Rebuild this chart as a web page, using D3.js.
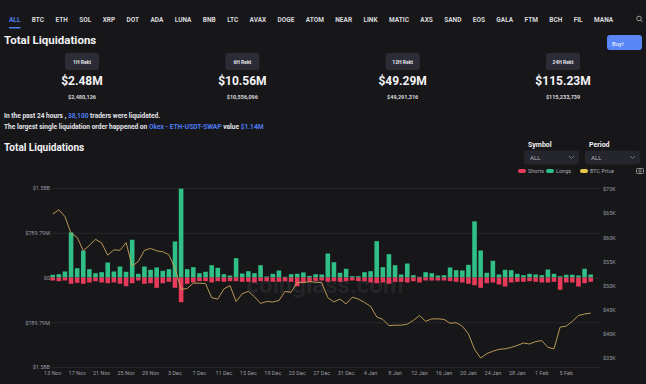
<!DOCTYPE html>
<html>
<head>
<meta charset="utf-8">
<script src="https://cdn.jsdelivr.net/npm/d3@7"></script>
<style>
  html, body { margin: 0; padding: 0; background: #17171a; }
  svg { display: block; font-family: Roboto, "Noto Sans", sans-serif; }
</style>
</head>
<body>
<svg id="page" width="646" height="384"></svg>
<script>
// ---- data ----
var navItems = ["ALL", "BTC", "ETH", "SOL", "XRP", "DOT", "ADA", "LUNA", "BNB", "LTC", "AVAX", "DOGE",
    "ATOM", "NEAR", "LINK", "MATIC", "AXS", "SAND", "EOS", "GALA", "FTM", "BCH", "FIL", "MANA"];
var rektLabels = ["1H Rekt", "6H Rekt", "12H Rekt", "24H Rekt"];
var rektValues = ["$2.48M", "$10.56M", "$49.29M", "$115.23M"];
var rektExact = ["$2,480,126", "$10,556,096", "$49,291,316", "$115,233,739"];

// daily liquidations in $M, 13 Nov -> 9 Feb
var longs = [48, 58, 106, 795, 164, 472, 147, 76, 94, 265, 106, 194, 101, 666, 65, 194, 136, 177, 118, 147,
    636, 1567, 147, 182, 76, 101, 217, 171, 58, 35, 341, 71, 111, 76, 217, 18, 65, 124, 12, 58,
    65, 90, 27, 58, 53, 424, 270, 83, 154, 23, 23, 94, 111, 641, 182, 412, 217, 53, 247, 41,
    12, 94, 76, 35, 41, 177, 129, 124, 224, 990, 477, 83, 295, 53, 136, 129, 65, 41, 65, 53,
    41, 141, 65, 23, 48, 48, 35, 154, 53];
var shorts = [53, 65, 53, 111, 94, 111, 88, 65, 88, 101, 88, 111, 154, 101, 53, 111, 101, 182, 101, 76,
    182, 436, 111, 88, 65, 65, 88, 65, 76, 65, 65, 76, 76, 88, 65, 65, 76, 76, 65, 76,
    154, 88, 76, 60, 53, 76, 65, 76, 65, 53, 65, 65, 88, 101, 88, 111, 76, 76, 88, 65,
    88, 53, 53, 53, 53, 65, 76, 88, 111, 136, 182, 101, 88, 124, 159, 88, 76, 76, 65, 76,
    88, 88, 76, 217, 88, 88, 159, 101, 76];
// BTC price in $K
var btcPrice = [64.8, 65.7, 64.3, 60.8, 60.0, 57.2, 58.3, 59.6, 58.8, 56.3, 57.4, 57.3, 58.9, 54.0, 55.0, 57.3,
    57.7, 57.2, 57.0, 56.4, 53.6, 49.2, 49.4, 50.5, 50.5, 50.4, 47.5, 47.2, 49.3, 50.0, 46.7, 48.3,
    48.8, 47.7, 46.3, 46.7, 46.6, 46.9, 48.8, 48.6, 50.7, 50.6, 50.8, 50.7, 50.6, 47.5, 46.6, 47.2,
    46.2, 47.6, 47.2, 46.5, 45.7, 43.5, 43.0, 41.7, 41.8, 41.8, 42.0, 42.8, 43.8, 42.6, 43.1, 43.1,
    43.0, 42.2, 42.3, 41.6, 40.0, 36.8, 35.0, 35.9, 36.4, 36.8, 36.9, 37.2, 37.6, 38.1, 37.9, 38.4,
    38.6, 37.2, 36.9, 41.4, 41.6, 42.6, 43.8, 44.1, 44.3];
var days = d3.timeDay.range(new Date(2021, 10, 13), new Date(2022, 1, 10));

var leftTicks = [1579.58, 789.79, 0, -789.79, -1579.58];
var leftTickLabels = ["$1.58B", "$789.79M", "$0", "$789.79M", "$1.58B"];
var rightTicks = [70, 65, 60, 55, 50, 45, 40, 35];
var rightTickLabels = ["$70K", "$65K", "$60K", "$55K", "$50K", "$45K", "$40K", "$35K"];
var xTickLabels = ["13 Nov", "17 Nov", "21 Nov", "25 Nov", "29 Nov", "3 Dec", "7 Dec", "11 Dec", "15 Dec",
    "19 Dec", "23 Dec", "27 Dec", "31 Dec", "4 Jan", "8 Jan", "12 Jan", "16 Jan", "20 Jan", "24 Jan",
    "28 Jan", "1 Feb", "5 Feb"];

var blue = "#4d7cf3", green = "#2fbf87", red = "#e83b5c", gold = "#c9a55a";

var svg = d3.select("#page");

// ---- top nav ----
var nav = svg.append("g").style("font-size", "6.5px").style("font-weight", "bold");
var nx = 9;
navItems.forEach(function (d, i) {
    var t = nav.append("text")
        .attr("x", nx).attr("y", 21.5)
        .attr("fill", i == 0 ? blue : "#d8d8dc")
        .text(d);
    var w = t.node().getComputedTextLength();
    if (i == 0) {
        nav.append("rect").attr("x", nx).attr("y", 27).attr("width", w).attr("height", 1.5)
            .attr("fill", blue);
    }
    nx += w + 11.4;
});
// search icon
nav.append("circle").attr("cx", 639).attr("cy", 18.5).attr("r", 2.3)
    .attr("fill", "none").attr("stroke", "#aaa").attr("stroke-width", 0.9);
nav.append("line").attr("x1", 640.7).attr("y1", 20.2).attr("x2", 642.5).attr("y2", 22)
    .attr("stroke", "#aaa").attr("stroke-width", 0.9);

// ---- header ----
svg.append("text").attr("x", 4).attr("y", 44)
    .attr("fill", "#f2f2f4").style("font-size", "11.5px").style("font-weight", "bold")
    .text("Total Liquidations");

var buy = svg.append("g");
buy.append("rect").attr("x", 607).attr("y", 35).attr("width", 35).attr("height", 15).attr("rx", 3)
    .attr("fill", "#5b86f7");
buy.append("text").attr("x", 612).attr("y", 45.5).attr("fill", "#fff")
    .style("font-size", "6px").text("Buy!");

var rektX = d3.scalePoint().domain(rektLabels).range([82, 563]);
var rekt = svg.append("g").selectAll("g").data(rektLabels).enter().append("g")
    .attr("transform", function (d) { return "translate(" + rektX(d) + ",0)"; })
    .attr("text-anchor", "middle");
rekt.append("rect").attr("x", -17).attr("y", 53).attr("width", 34).attr("height", 17).attr("rx", 2.5)
    .attr("fill", "#2b2c36");
rekt.append("text").attr("y", 63.5).attr("fill", "#e6e6ea")
    .style("font-size", "5px").style("font-weight", "bold").text(function (d) { return d; });
rekt.append("text").attr("y", 85).attr("fill", "#f4f4f6")
    .style("font-size", "12px").style("font-weight", "bold")
    .text(function (d, i) { return rektValues[i]; });
rekt.append("text").attr("y", 98.5).attr("fill", "#d8d8dc")
    .style("font-size", "5.5px").style("font-weight", "bold")
    .text(function (d, i) { return rektExact[i]; });

var info = svg.append("g").style("font-size", "6.6px").style("font-weight", "bold").attr("fill", "#e4e4e8");
var l1 = info.append("text").attr("x", 4).attr("y", 117.5);
l1.append("tspan").text("In the past 24 hours , ");
l1.append("tspan").attr("fill", blue).text("38,100");
l1.append("tspan").text(" traders were liquidated.");
var l2 = info.append("text").attr("x", 4).attr("y", 128.5);
l2.append("tspan").text("The largest single liquidation order happened on ");
l2.append("tspan").attr("fill", blue).text("Okex - ETH-USDT-SWAP");
l2.append("tspan").text(" value ");
l2.append("tspan").attr("fill", blue).text("$1.14M");

svg.append("text").attr("x", 4).attr("y", 151)
    .attr("fill", "#f2f2f4").style("font-size", "10px").style("font-weight", "bold")
    .text("Total Liquidations");

// ---- selectors + legend ----
var selects = [["Symbol", 524], ["Period", 585]];
selects.forEach(function (s) {
    var g = svg.append("g").attr("transform", "translate(" + s[1] + ",0)");
    g.append("text").attr("x", 4).attr("y", 147).attr("fill", "#f0f0f2")
        .style("font-size", "7px").style("font-weight", "bold").text(s[0]);
    g.append("rect").attr("x", 0).attr("y", 150.5).attr("width", 55).attr("height", 14).attr("rx", 3)
        .attr("fill", "#24252d");
    g.append("text").attr("x", 6).attr("y", 160).attr("fill", "#b8b8c0")
        .style("font-size", "6px").text("ALL");
    g.append("path").attr("d", "M45,156 L47.5,158.5 L50,156").attr("fill", "none")
        .attr("stroke", "#888").attr("stroke-width", 0.8);
});

var legendItems = [["Shorts", red, 518], ["Longs", green, 546], ["BTC Price", "#e8c64a", 580]];
var legend = svg.append("g").style("font-size", "5.5px");
legendItems.forEach(function (d) {
    legend.append("rect").attr("x", d[2]).attr("y", 169).attr("width", 8).attr("height", 4).attr("rx", 2)
        .attr("fill", d[1]);
    legend.append("text").attr("x", d[2] + 10).attr("y", 173).attr("fill", "#a8a8b0").text(d[0]);
});
// camera icon
var cam = svg.append("g").attr("transform", "translate(640,171)");
cam.append("rect").attr("x", -3.5).attr("y", -2.5).attr("width", 7).attr("height", 5).attr("rx", 1)
    .attr("fill", "none").attr("stroke", "#aaa").attr("stroke-width", 0.8);
cam.append("circle").attr("r", 1.3).attr("fill", "none").attr("stroke", "#aaa").attr("stroke-width", 0.7);

// ---- chart ----
var x = d3.scaleBand().domain(days).range([48.9, 594.5]).padding(0.25);
var y = d3.scaleLinear().domain([-1579.58, 1579.58]).range([367, 188]);
var yPrice = d3.scaleLinear().domain([35, 70]).range([358, 189]);

// watermark
svg.append("text").attr("x", 325).attr("y", 293).attr("text-anchor", "middle")
    .attr("fill", "#ffffff").attr("fill-opacity", 0.07)
    .style("font-size", "24px").style("font-weight", "bold")
    .text("coinglass.com");

var yAxis = svg.append("g")
    .attr("transform", "translate(52,0)")
    .call(d3.axisLeft(y).tickValues(leftTicks).tickSize(-548).tickPadding(2)
        .tickFormat(function (d, i) { return leftTickLabels[i]; }));
yAxis.select(".domain").remove();
yAxis.selectAll("line").attr("stroke", "#2a2a31").attr("stroke-width", 0.8);
yAxis.selectAll("text").attr("fill", "#9a9aa2").style("font-size", "5.5px")
    .style("font-family", "Roboto, sans-serif");

var pAxis = svg.append("g")
    .attr("transform", "translate(600,0)")
    .call(d3.axisRight(yPrice).tickValues(rightTicks).tickSize(0).tickPadding(3)
        .tickFormat(function (d, i) { return rightTickLabels[i]; }));
pAxis.select(".domain").remove();
pAxis.selectAll("text").attr("fill", "#9a9aa2").style("font-size", "5.5px")
    .style("font-family", "Roboto, sans-serif");

var fmt = d3.timeFormat("%-d %b");
var xAxis = svg.append("g")
    .attr("transform", "translate(0,369)")
    .call(d3.axisBottom(x)
        .tickValues(days.filter(function (d) { return xTickLabels.indexOf(fmt(d)) >= 0; }))
        .tickSize(0).tickPadding(2)
        .tickFormat(fmt));
xAxis.select(".domain").remove();
xAxis.selectAll("text").attr("fill", "#9a9aa2").style("font-size", "5.5px")
    .style("font-family", "Roboto, sans-serif");

var bars = svg.append("g");
bars.selectAll(".long").data(days).enter().append("rect")
    .attr("class", "long")
    .attr("fill", green)
    .attr("x", function (d) { return x(d); })
    .attr("width", x.bandwidth())
    .attr("y", function (d, i) { return y(longs[i]); })
    .attr("height", function (d, i) { return y(0) - y(longs[i]); });
bars.selectAll(".short").data(days).enter().append("rect")
    .attr("class", "short")
    .attr("fill", red)
    .attr("x", function (d) { return x(d); })
    .attr("width", x.bandwidth())
    .attr("y", y(0))
    .attr("height", function (d, i) { return y(-shorts[i]) - y(0); });

var line = d3.line()
    .x(function (d, i) { return x(days[i]) + x.bandwidth() / 2; })
    .y(function (d) { return yPrice(d); });
svg.append("path").datum(btcPrice)
    .attr("d", line)
    .attr("fill", "none")
    .attr("stroke", gold)
    .attr("stroke-width", 0.9);
</script>
</body>
</html>
